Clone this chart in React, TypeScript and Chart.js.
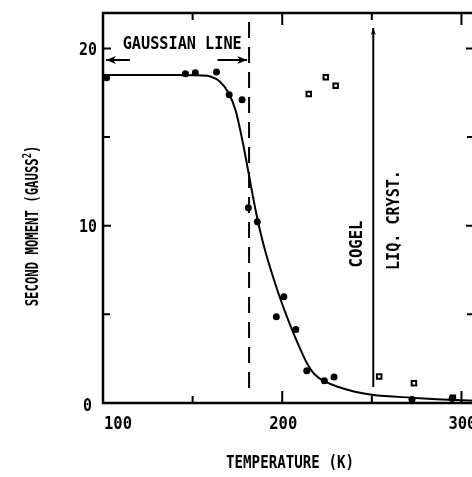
import React, { useEffect, useRef } from "react";
import { Chart, registerables } from "chart.js";

Chart.register(...registerables);

// ---- data ----
const filledT = [102, 146, 151.5, 163.3, 170.4, 177.6, 181.1, 186.1, 196.7, 200.9, 207.6, 213.7, 223.5, 228.9, 272.4, 294.8];
const filledM = [18.35, 18.57, 18.63, 18.67, 17.39, 17.1, 11.02, 10.23, 4.86, 5.99, 4.15, 1.82, 1.26, 1.46, 0.2, 0.26];

const openT = [214.8, 224.3, 229.8, 254.1, 273.5, 295.2];
const openM = [17.43, 18.37, 17.9, 1.49, 1.11, 0.3];

const curveT = [100, 140, 155, 160, 165, 170, 174, 178, 181, 183, 186, 189, 192, 198, 204, 210, 214, 218, 224, 231, 240, 250, 272, 300, 307];
const curveM = [18.5, 18.5, 18.48, 18.42, 18.15, 17.5, 16.5, 14.7, 13.1, 12.0, 10.45, 9.15, 8.05, 6.15, 4.5, 3.05, 2.2, 1.62, 1.2, 0.92, 0.65, 0.47, 0.3, 0.15, 0.13];

const gaussianLineT = 181.5; // dashed boundary
const gaussianLineM = [0.85, 22];
const liqCrystT = 250.8; // solid boundary
const liqCrystM = [0.9, 21.15];
const arrowM = 19.35;
const leftArrowT = [115, 101.7];
const rightArrowT = [163.9, 180.4];

const xLabelValues = [100, 200, 300];
const xLabels = ["100", "200", "300"];
const yLabelValues = [0, 10, 20];
const yLabels = ["0", "10", "20"];
const xMajorTicks = [200, 300];
const xMinorTicks = [150, 250];
const yMajorTicks = [10, 20];
const yMinorTicks = [5, 15];

const X_MIN = 100, X_MAX = 307, Y_MIN = 0, Y_MAX = 22;

const FONT = '"DejaVu Sans Mono", monospace';

function drawFit(ctx: CanvasRenderingContext2D, text: string, cx: number, cy: number, target: number, rot: number, size: number, align: "center" | "left" | "right" = "center") {
  ctx.save();
  ctx.font = `bold ${size}px ${FONT}`;
  const w = ctx.measureText(text).width;
  const s = target / w;
  ctx.translate(cx, cy);
  ctx.rotate(rot);
  ctx.scale(s, 1);
  ctx.textAlign = align;
  ctx.textBaseline = "alphabetic";
  ctx.fillStyle = "#000";
  ctx.fillText(text, 0, size * 0.365);
  ctx.restore();
}

function arrowHead(ctx: CanvasRenderingContext2D, x0: number, y0: number, x1: number, y1: number, len: number, half: number) {
  const a = Math.atan2(y1 - y0, x1 - x0);
  ctx.save();
  ctx.translate(x1, y1);
  ctx.rotate(a);
  ctx.beginPath();
  ctx.moveTo(0, 0);
  ctx.lineTo(-len, -half);
  ctx.lineTo(-len * 0.7, 0);
  ctx.lineTo(-len, half);
  ctx.closePath();
  ctx.fillStyle = "#000";
  ctx.fill();
  ctx.restore();
}

const decorPlugin = {
  id: "decor",
  afterDatasetsDraw(chart: any) {
    const ctx: CanvasRenderingContext2D = chart.ctx;
    const xs = chart.scales.x;
    const ys = chart.scales.y;
    const { left, right, top, bottom } = chart.chartArea;
    ctx.save();
    ctx.strokeStyle = "#000";
    ctx.lineWidth = 2.5;
    ctx.strokeRect(left, top, right - left, bottom - top);

    ctx.lineWidth = 2;
    const vt = (v: number, len: number) => {
      const p = xs.getPixelForValue(v);
      ctx.beginPath();
      ctx.moveTo(p, bottom); ctx.lineTo(p, bottom - len);
      ctx.moveTo(p, top); ctx.lineTo(p, top + len);
      ctx.stroke();
    };
    xMajorTicks.forEach((v) => vt(v, 12));
    xMinorTicks.forEach((v) => vt(v, 7));
    const ht = (v: number, len: number) => {
      const p = ys.getPixelForValue(v);
      ctx.beginPath();
      ctx.moveTo(left, p); ctx.lineTo(left + len, p);
      ctx.moveTo(right, p); ctx.lineTo(right - len, p);
      ctx.stroke();
    };
    yMajorTicks.forEach((v) => ht(v, 8));
    yMinorTicks.forEach((v) => ht(v, 7));

    // tick labels
    xLabelValues.forEach((v, i) => {
      const p = xs.getPixelForValue(v);
      if (i === 0) drawFit(ctx, xLabels[i], left + 1, 423, 28, 0, 17, "left");
      else drawFit(ctx, xLabels[i], p + 1, 423, 28, 0, 17, "center");
    });
    yLabelValues.forEach((v, i) => {
      const p = ys.getPixelForValue(v);
      const w = yLabels[i].length * 9;
      drawFit(ctx, yLabels[i], v === 0 ? 92 : 97, p + (v === 0 ? 2 : 0), w, 0, 17, "right");
    });

    // arrows
    const lp0x = xs.getPixelForValue(leftArrowT[0]), lp1x = xs.getPixelForValue(leftArrowT[1]);
    const rp0x = xs.getPixelForValue(rightArrowT[0]), rp1x = xs.getPixelForValue(rightArrowT[1]);
    const ay = ys.getPixelForValue(arrowM);
    arrowHead(ctx, lp0x, ay, lp1x, ay, 10, 4);
    arrowHead(ctx, rp0x, ay, rp1x, ay, 10, 4);
    const lx = xs.getPixelForValue(liqCrystT);
    arrowHead(ctx, lx, ys.getPixelForValue(liqCrystM[0]), lx, ys.getPixelForValue(liqCrystM[1]), 7, 2.5);

    // annotations
    drawFit(ctx, "GAUSSIAN LINE", xs.getPixelForValue(144.2), ys.getPixelForValue(20.31), 119, 0, 17);
    drawFit(ctx, "COGEL", xs.getPixelForValue(241.1), ys.getPixelForValue(8.97), 47, -Math.PI / 2, 17);
    drawFit(ctx, "LIQ. CRYST.", xs.getPixelForValue(261.7), ys.getPixelForValue(10.32), 100, -Math.PI / 2, 17);

    // axis titles
    drawFit(ctx, "TEMPERATURE (K)", 290, 462, 128, 0, 17);

    // y title with superscript
    ctx.save();
    ctx.translate(32, 226);
    ctx.rotate(-Math.PI / 2);
    ctx.fillStyle = "#000";
    ctx.font = `bold 17px ${FONT}`;
    const main = "SECOND MOMENT (GAUSS";
    const mw = ctx.measureText(main).width;
    const s = 148 / mw;
    ctx.font = `bold 12px ${FONT}`;
    const sw = ctx.measureText("2").width * s;
    ctx.font = `bold 17px ${FONT}`;
    const pw = ctx.measureText(")").width * s;
    const total = 148 + sw + pw;
    const x0 = -total / 2;
    const base = 17 * 0.365;
    ctx.save();
    ctx.translate(x0, 0);
    ctx.scale(s, 1);
    ctx.textAlign = "left";
    ctx.fillText(main, 0, base);
    ctx.restore();
    ctx.save();
    ctx.translate(x0 + 148, 0);
    ctx.scale(s, 1);
    ctx.font = `bold 12px ${FONT}`;
    ctx.textAlign = "left";
    ctx.fillText("2", 0, base - 7);
    ctx.restore();
    ctx.save();
    ctx.translate(x0 + 148 + sw, 0);
    ctx.scale(s, 1);
    ctx.font = `bold 17px ${FONT}`;
    ctx.textAlign = "left";
    ctx.fillText(")", 0, base);
    ctx.restore();
    ctx.restore();

    ctx.restore();
  },
};

export default function App() {
  const ref = useRef<HTMLCanvasElement | null>(null);
  useEffect(() => {
    if (!ref.current) return;
    const lineStyle = { showLine: true, pointRadius: 0, borderColor: "#000", fill: false, clip: false as any };
    const chart = new Chart(ref.current, {
      type: "scatter",
      data: {
        datasets: [
          {
            ...lineStyle,
            data: curveT.map((t, i) => ({ x: t, y: curveM[i] })),
            borderWidth: 2,
            cubicInterpolationMode: "monotone",
          } as any,
          {
            ...lineStyle,
            data: gaussianLineM.map((m) => ({ x: gaussianLineT, y: m })),
            borderWidth: 2,
            borderDash: [16, 9],
          } as any,
          {
            ...lineStyle,
            data: liqCrystM.map((m) => ({ x: liqCrystT, y: m })),
            borderWidth: 2,
          } as any,
          {
            ...lineStyle,
            data: leftArrowT.map((t) => ({ x: t, y: arrowM })),
            borderWidth: 2,
          } as any,
          {
            ...lineStyle,
            data: rightArrowT.map((t) => ({ x: t, y: arrowM })),
            borderWidth: 2,
          } as any,
          {
            data: filledT.map((t, i) => ({ x: t, y: filledM[i] })),
            pointStyle: "circle",
            pointRadius: 3.5,
            backgroundColor: "#000",
            borderColor: "#000",
            borderWidth: 0,
            clip: false as any,
          } as any,
          {
            data: openT.map((t, i) => ({ x: t, y: openM[i] })),
            pointStyle: "rect",
            pointRadius: 3.2,
            backgroundColor: "#fff",
            borderColor: "#000",
            borderWidth: 2,
            clip: false as any,
          } as any,
        ],
      },
      options: {
        animation: false,
        responsive: false,
        devicePixelRatio: 1,
        events: [],
        layout: { padding: { left: 103, top: 13, right: 4.4, bottom: 74 } },
        plugins: { legend: { display: false }, tooltip: { enabled: false } },
        scales: {
          x: { type: "linear", min: X_MIN, max: X_MAX, display: false },
          y: { type: "linear", min: Y_MIN, max: Y_MAX, display: false },
        },
      },
      plugins: [decorPlugin],
    });
    return () => chart.destroy();
  }, []);
  return (
    <div style={{ position: "absolute", left: 0, top: 0, width: 472, height: 477, overflow: "hidden", background: "#fff" }}>
      <canvas ref={ref} width={480} height={477} style={{ display: "block" }} />
    </div>
  );
}
